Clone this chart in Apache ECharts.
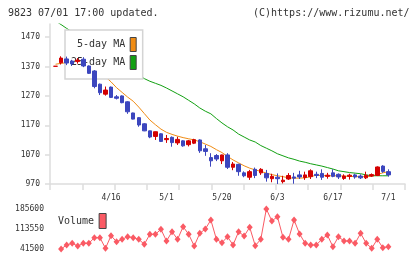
<!DOCTYPE html>
<html>
<head>
<meta charset="utf-8">
<script src="https://cdn.jsdelivr.net/npm/echarts@6/dist/echarts.min.js"></script>
<style>
html, body { margin: 0; padding: 0; background: #fff; }
#chart { width: 420px; height: 259px; }
</style>
</head>
<body>
<div id="chart"></div>
<script>
// 9823 日足 (61本) + 5日/25日移動平均 + 出来高
let openVals = [1371, 1383, 1396, 1389, 1387, 1395, 1372, 1355, 1310, 1276,
	1300, 1267, 1270, 1250, 1212, 1196, 1175, 1151, 1132, 1141,
	1121, 1129, 1110, 1117, 1104, 1109, 1120, 1090, 1060, 1067,
	1049, 1069, 1027, 1037, 1008, 993, 1020, 1008, 1006, 988,
	993, 978, 987, 994, 1001, 992, 995, 1003, 1006, 996,
	1008, 1003, 989, 996, 1001, 997, 991, 997, 999, 1031, 1012]
let closeVals = [1371, 1399, 1382, 1379, 1392, 1372, 1347, 1302, 1281, 1290,
	1265, 1262, 1247, 1216, 1191, 1171, 1151, 1130, 1148, 1115,
	1125, 1111, 1122, 1100, 1117, 1121, 1083, 1081, 1049, 1055,
	1069, 1027, 1038, 1012, 998, 1012, 999, 1020, 991, 996,
	988, 983, 999, 990, 994, 1001, 1015, 999, 993, 1000,
	996, 994, 997, 1000, 994, 991, 1000, 1002, 1028, 1013, 1001]
let lowVals = [1371, 1377, 1375, 1372, 1380, 1368, 1345, 1296, 1273, 1271,
	1263, 1258, 1245, 1209, 1190, 1165, 1150, 1126, 1120, 1113,
	1110, 1097, 1103, 1097, 1098, 1106, 1076, 1066, 1029, 1048,
	1038, 1021, 1017, 998, 993, 984, 990, 1001, 978, 976,
	970, 972, 984, 971, 987, 984, 987, 990, 984, 988,
	993, 987, 984, 985, 988, 987, 987, 994, 997, 1008, 995]
let highVals = [1371, 1405, 1404, 1393, 1399, 1402, 1374, 1358, 1312, 1302,
	1302, 1273, 1272, 1252, 1213, 1198, 1177, 1152, 1149, 1143,
	1137, 1132, 1131, 1119, 1120, 1124, 1122, 1103, 1075, 1072,
	1070, 1075, 1045, 1039, 1013, 1018, 1026, 1024, 1018, 1005,
	1006, 998, 1007, 1008, 1015, 1012, 1020, 1012, 1020, 1008,
	1020, 1006, 1003, 1005, 1005, 1003, 1012, 1006, 1030, 1034, 1020]
let ma5 = [1378, 1381, 1383, 1384, 1384, 1380, 1372, 1362, 1350, 1335,
	1318, 1298, 1282, 1266, 1252, 1232, 1210, 1188, 1172, 1157,
	1146, 1139, 1133, 1128, 1124, 1120, 1114, 1106, 1098, 1087,
	1077, 1064, 1052, 1042, 1032, 1024, 1018, 1013, 1007, 1002,
	998, 995, 991, 990, 990, 991, 995, 1000, 999, 998,
	998, 998, 997, 996, 995, 995, 995, 997, 1003, 1008, 1012]
let ma25 = [1525, 1513, 1500, 1488, 1476, 1464, 1451, 1438, 1426, 1414,
	1401, 1389, 1377, 1365, 1353, 1341, 1329, 1320, 1313, 1306,
	1297, 1287, 1277, 1267, 1255, 1243, 1229, 1218, 1209, 1193,
	1178, 1165, 1154, 1140, 1130, 1120, 1113, 1101, 1092, 1083,
	1073, 1066, 1059, 1054, 1048, 1044, 1039, 1035, 1031, 1026,
	1021, 1015, 1012, 1009, 1007, 1005, 1001, 998, 998, 998, 998]
let volume = [null, 41500, 55900, 62000, 52300, 62000, 62000, 82200, 82200, 44000,
	89400, 67800, 76400, 85800, 82200, 76400, 58400, 94500, 94500, 112500,
	70300, 103800, 76400, 121800, 94500, 52300, 98100, 113550, 146000, 76400,
	64200, 85800, 55900, 103800, 88300, 119700, 53400, 76400, 185600, 142400,
	157900, 83600, 76400, 146000, 95500, 62000, 55900, 55900, 76400, 91900,
	49800, 85800, 70300, 70300, 62000, 98100, 62000, 44000, 76400, 46200, 49800]
let dateIdx = [10, 20, 30, 40, 50, 60]
let dateText = ["4/16", "5/1", "5/20", "6/3", "6/17", "7/1"]
let priceTicks = [970, 1070, 1170, 1270, 1370, 1470]
let volumeTicks = [41500, 113550, 185600]

let mono = "DejaVu Sans Mono"
let xMin = -1
let xMax = 63
// 目盛りは軸を11等分
let xTicks = []
for (let k = 0; k <= 11; k++) {
	xTicks.push(xMin + k * (xMax - xMin) / 11)
}

let candles = openVals.map(function (o, i) {
	return [i, o, closeVals[i], lowVals[i], highVals[i]]
})
let toPoints = function (arr) {
	return arr.map(function (v, i) {
		return [i, v]
	})
}

let chart = echarts.init(document.getElementById("chart"))
chart.setOption({
	animation: false,
	backgroundColor: "#fff",
	title: [
		{
			text: "9823 07/01 17:00 updated.",
			left: 8,
			top: 8,
			padding: 0,
			textStyle: {fontFamily: mono, fontSize: 10, fontWeight: "normal", color: "#333"}
		},
		{
			text: "(C)https://www.rizumu.net/",
			left: 253,
			top: 8,
			padding: 0,
			textStyle: {fontFamily: mono, fontSize: 10, fontWeight: "normal", color: "#333"}
		}
	],
	legend: [
		{
			data: [
				{name: "5-day MA", icon: "rect", itemStyle: {color: "#f08c14", borderColor: "#444", borderWidth: 1}},
				{name: "25-day MA", icon: "rect", itemStyle: {color: "#12a012", borderColor: "#444", borderWidth: 1}}
			],
			orient: "vertical",
			align: "right",
			left: 65,
			top: 30,
			padding: [7, 6, 9, 6],
			itemWidth: 6,
			itemHeight: 14,
			itemGap: 3,
			backgroundColor: "#fff",
			borderColor: "#d4d4d4",
			borderWidth: 1.5,
			z: 2,
			selectedMode: false,
			textStyle: {fontFamily: mono, fontSize: 10, color: "#333"}
		},
		{
			data: [
				{name: "Volume", icon: "rect", itemStyle: {color: "#fa5a64", borderColor: "#444", borderWidth: 1}}
			],
			align: "right",
			left: 58,
			top: 213,
			padding: 0,
			itemWidth: 7,
			itemHeight: 15,
			selectedMode: false,
			textStyle: {fontFamily: mono, fontSize: 10, color: "#333"}
		}
	],
	grid: [
		{left: 50, top: 24, width: 355, height: 160},
		{left: 50, top: 209, width: 355, height: 40}
	],
	xAxis: [
		{
			type: "value",
			gridIndex: 0,
			min: xMin,
			max: xMax,
			axisLine: {show: true, onZero: false, lineStyle: {color: "#ddd", width: 1.5}},
			axisTick: {show: true, customValues: xTicks, length: 6, lineStyle: {color: "#ddd", width: 1.5}},
			axisLabel: {
				customValues: dateIdx,
				formatter: function (v) {
					return dateText[dateIdx.indexOf(v)]
				},
				fontFamily: mono,
				fontSize: 8,
				color: "#333",
				margin: 10
			},
			splitLine: {show: false}
		},
		{
			type: "value",
			gridIndex: 1,
			min: xMin,
			max: xMax,
			show: false
		}
	],
	yAxis: [
		{
			type: "value",
			gridIndex: 0,
			min: 970,
			max: 1515,
			axisLine: {show: true, onZero: false, lineStyle: {color: "#ddd", width: 1.5}},
			axisTick: {show: true, customValues: priceTicks, length: 5, lineStyle: {color: "#ddd", width: 1.5}},
			axisLabel: {
				customValues: priceTicks,
				formatter: function (v) {
					return String(v)
				},
				fontFamily: mono,
				fontSize: 8,
				color: "#333",
				margin: 10
			},
			splitLine: {show: false}
		},
		{
			type: "value",
			gridIndex: 1,
			min: 41500,
			max: 185600,
			axisLine: {show: false},
			axisTick: {show: false},
			axisLabel: {
				customValues: volumeTicks,
				formatter: function (v) {
					return String(v)
				},
				fontFamily: mono,
				fontSize: 8,
				color: "#333",
				margin: 6
			},
			splitLine: {show: false}
		}
	],
	series: [
		{
			name: "5-day MA",
			type: "line",
			xAxisIndex: 0,
			yAxisIndex: 0,
			data: toPoints(ma5),
			showSymbol: false,
			symbol: "none",
			z: 1,
			itemStyle: {color: "#f08c14"},
			lineStyle: {color: "#f08c14", width: 1}
		},
		{
			name: "25-day MA",
			type: "line",
			xAxisIndex: 0,
			yAxisIndex: 0,
			data: toPoints(ma25),
			showSymbol: false,
			symbol: "none",
			z: 1,
			itemStyle: {color: "#12a012"},
			lineStyle: {color: "#12a012", width: 1}
		},
		{
			name: "price",
			type: "candlestick",
			xAxisIndex: 0,
			yAxisIndex: 0,
			data: candles,
			barWidth: 4,
			z: 3,
			itemStyle: {
				color: "#d40000",
				color0: "#3c46be",
				borderColor: "#d40000",
				borderColor0: "#3c46be",
				borderColorDoji: "#d40000",
				borderWidth: 1
			}
		},
		{
			name: "Volume",
			type: "line",
			xAxisIndex: 1,
			yAxisIndex: 1,
			data: toPoints(volume),
			symbol: "diamond",
			symbolSize: [6, 7],
			clip: false,
			itemStyle: {color: "#fa5a64"},
			lineStyle: {color: "#fa5a64", width: 1}
		}
	]
})
</script>
</body>
</html>
